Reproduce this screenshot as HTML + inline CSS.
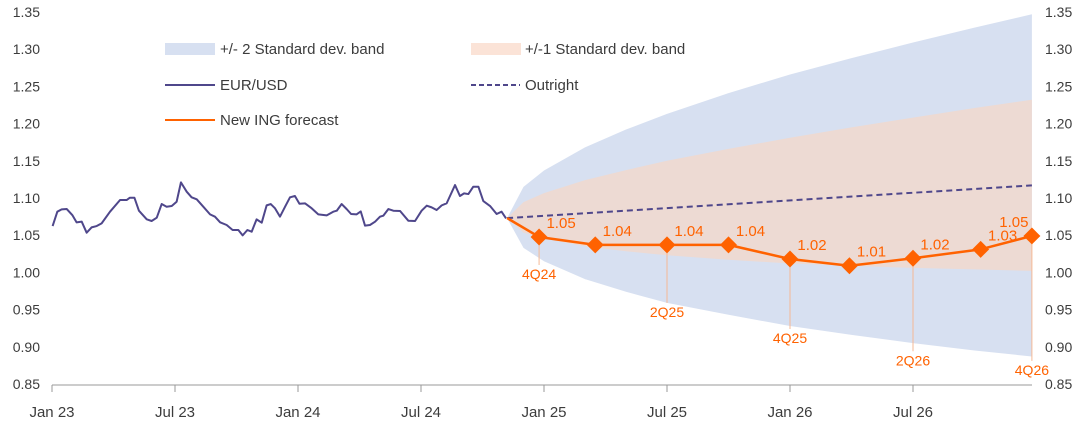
<!DOCTYPE html>
<html><head><meta charset="utf-8"><style>
body{margin:0;background:#fff;}
svg{display:block;font-family:"Liberation Sans",sans-serif;}
</style></head><body>
<svg id="chart" width="1077" height="424"></svg>
<script>
// ---- data ----
const yTicks=[0.85,0.90,0.95,1.00,1.05,1.10,1.15,1.20,1.25,1.30,1.35];
const xTickLabels=["Jan 23","Jul 23","Jan 24","Jul 24","Jan 25","Jul 25","Jan 26","Jul 26"];
const xTickMonths=[0,6,12,18,24,30,36,42];
const histMonths=[0.03,0.26,0.47,0.72,0.99,1.2,1.45,1.69,1.93,2.18,2.42,2.83,3.32,3.64,3.8,4.02,4.24,4.62,4.86,5.11,5.35,5.59,5.84,6.08,6.29,6.57,6.81,7.06,7.38,7.71,7.95,8.2,8.52,8.81,9.09,9.3,9.53,9.74,9.98,10.23,10.47,10.67,10.88,11.12,11.37,11.61,11.85,12.07,12.34,12.67,12.99,13.4,13.72,13.89,14.13,14.37,14.59,14.86,15.06,15.27,15.51,15.76,16,16.16,16.41,16.65,16.98,17.38,17.71,18.03,18.28,18.52,18.76,19.01,19.25,19.66,19.9,20.1,20.31,20.55,20.8,21.04,21.37,21.69,21.93,22.15];
const histValues=[1.0623,1.0816,1.0847,1.0852,1.0771,1.0673,1.0682,1.0534,1.0605,1.0623,1.0659,1.0816,1.0973,1.0973,1.1004,1.1004,1.0829,1.0713,1.0691,1.0735,1.0919,1.0883,1.0892,1.0950,1.1210,1.1085,1.1009,1.0982,1.0883,1.0780,1.0749,1.0673,1.0637,1.0570,1.0570,1.0498,1.0570,1.0547,1.0713,1.0668,1.0901,1.0919,1.0861,1.0749,1.0883,1.1009,1.1027,1.0923,1.0928,1.0861,1.0780,1.0767,1.0816,1.0829,1.0919,1.0852,1.0785,1.0780,1.0820,1.0628,1.0637,1.0682,1.0749,1.0762,1.0852,1.0829,1.0825,1.0695,1.0691,1.0829,1.0897,1.0874,1.0838,1.0901,1.0928,1.1174,1.1027,1.1062,1.1053,1.1152,1.1152,1.0959,1.0892,1.0785,1.0816,1.0726];
const bandMonths=[22.2,23,24,26,28,30,33,36,39,42,45,47.8];
const upper2=[1.073,1.115,1.137,1.168,1.192,1.213,1.241,1.266,1.288,1.309,1.329,1.347];
const lower2=[1.073,1.033,1.015,0.991,0.974,0.959,0.943,0.928,0.916,0.905,0.895,0.887];
const upper1=[1.073,1.0945,1.1065,1.124,1.1375,1.150,1.166,1.181,1.195,1.208,1.221,1.232];
const lower1=[1.073,1.0535,1.0455,1.035,1.0285,1.023,1.017,1.012,1.009,1.006,1.004,1.002];
const outrightMonths=[22.2,47.8];
const outrightValues=[1.073,1.117];
const fcStartMonth=22.2, fcStartValue=1.073;
const fcQuarters=["4Q24","1Q25","2Q25","3Q25","4Q25","1Q26","2Q26","3Q26","4Q26"];
const fcMonths=[23.76,26.5,30,33,36,38.9,42,45.3,47.8];
const fcValues=[1.0476,1.037,1.037,1.037,1.018,1.009,1.019,1.031,1.049];
const fcLabels=["1.05","1.04","1.04","1.04","1.02","1.01","1.02","1.03","1.05"];
const quarterLabelShown=[true,false,true,false,true,false,true,false,true];
const quarterLabelDrop=[42,0,72,0,84,0,107,0,139];

// ---- axes ----
const X0=52,PXM=20.5,Y0=384,PXV=744;
const xs=m=>X0+m*PXM;
const ys=v=>Y0-(v-0.85)*PXV;
const NS="http://www.w3.org/2000/svg";
const svg=document.getElementById('chart');
function el(tag,attrs,parent){const e=document.createElementNS(NS,tag);for(const k in attrs)e.setAttribute(k,attrs[k]);(parent||svg).appendChild(e);return e;}
const ORANGE="#ff6200",NAVY="#4f478b",TXT="#3c3c3c";

function band(up,lo,fill,name){
  let d="M"+bandMonths.map((m,i)=>xs(m)+","+ys(up[i])).join("L");
  for(let i=bandMonths.length-1;i>=0;i--)d+="L"+xs(bandMonths[i])+","+ys(lo[i]);
  const p=el('path',{d:d+"Z",fill:fill});
  
  
}
band(upper2,lower2,"#d7e0f1","band-2sd");
band(upper1,lower1,"#eddad3","band-1sd");

yTicks.forEach(v=>{
  const l=el('text',{x:40,y:ys(v)+5,'text-anchor':'end','font-size':14,fill:TXT});l.textContent=v.toFixed(2);
  
  
  const r=el('text',{x:1045,y:ys(v)+5,'font-size':14,fill:TXT});r.textContent=v.toFixed(2);
  
  
});
const ax=el('line',{x1:52,y1:385,x2:1032,y2:385,stroke:"#999",'stroke-width':1});


xTickMonths.forEach((m,i)=>{
  el('line',{x1:xs(m),y1:385,x2:xs(m),y2:392,stroke:"#999"});
  const t=el('text',{x:xs(m),y:417,'text-anchor':'middle','font-size':15,fill:TXT});t.textContent=xTickLabels[i];
  
  
});

const h=el('polyline',{points:histMonths.map((m,i)=>xs(m)+","+ys(histValues[i])).join(" "),fill:"none",stroke:NAVY,'stroke-width':2,'stroke-linejoin':'round'});


const o=el('polyline',{points:outrightMonths.map((m,i)=>xs(m)+","+ys(outrightValues[i])).join(" "),fill:"none",stroke:NAVY,'stroke-width':2,'stroke-dasharray':'6,4'});



fcMonths.forEach((m,i)=>{
  if(!quarterLabelShown[i])return;
  const x=xs(m),y=ys(fcValues[i]);
  el('line',{x1:x,y1:y,x2:x,y2:y+quarterLabelDrop[i]-14,stroke:"#f5b995",'stroke-width':1});
  const t=el('text',{x:x,y:y+quarterLabelDrop[i],'text-anchor':'middle','font-size':14,fill:ORANGE});t.textContent=fcQuarters[i];
  
  
});
const fpts=[xs(fcStartMonth)+","+ys(fcStartValue)].concat(fcMonths.map((m,i)=>xs(m)+","+ys(fcValues[i])));
const f=el('polyline',{points:fpts.join(" "),fill:"none",stroke:ORANGE,'stroke-width':2.5,'stroke-linejoin':'round'});


fcMonths.forEach((m,i)=>{
  const x=xs(m),y=ys(fcValues[i]);
  const d=el('rect',{x:x-6,y:y-6,width:12,height:12,fill:ORANGE,transform:`rotate(45 ${x} ${y})`});
  
  
  const t=el('text',{x:x+(i==8?-18:22),y:y-9,'text-anchor':'middle','font-size':15,fill:ORANGE});t.textContent=fcLabels[i];
  
  
});

function legText(x,y,s){const t=el('text',{x:x,y:y+5,'font-size':15,fill:TXT});t.textContent=s;
  
  }
el('rect',{x:165,y:43,width:50,height:12,fill:"#d7e0f1"});
legText(220,49,"+/- 2 Standard dev. band");
el('rect',{x:471,y:43,width:50,height:12,fill:"#fbe3d7"});
legText(525,49,"+/-1 Standard dev. band");
el('line',{x1:165,y1:85,x2:215,y2:85,stroke:NAVY,'stroke-width':2});
legText(220,85,"EUR/USD");
el('line',{x1:471,y1:85,x2:520,y2:85,stroke:NAVY,'stroke-width':2,'stroke-dasharray':'5,3'});
legText(525,85,"Outright");
el('line',{x1:165,y1:120,x2:215,y2:120,stroke:ORANGE,'stroke-width':2});
legText(220,120,"New ING forecast");
</script>
</body></html>
